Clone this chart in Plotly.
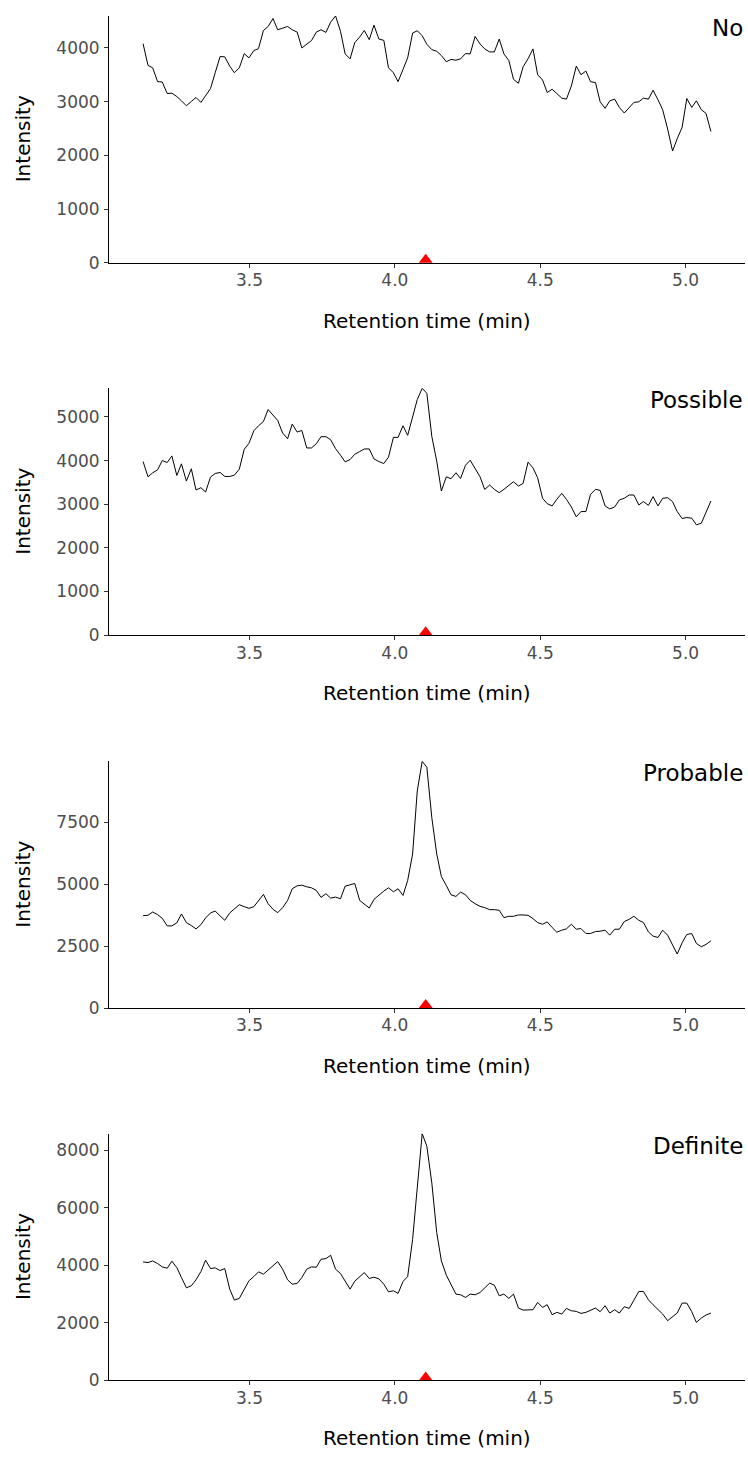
import plotly.graph_objects as go

# ---------------- data ----------------
retention_time = [
    3.134, 3.151, 3.167, 3.184, 3.200, 3.217, 3.233, 3.250, 3.266, 3.283,
    3.300, 3.316, 3.333, 3.349, 3.366, 3.382, 3.399, 3.415, 3.432, 3.448,
    3.465, 3.482, 3.498, 3.515, 3.531, 3.548, 3.564, 3.581, 3.597, 3.614,
    3.631, 3.647, 3.664, 3.680, 3.697, 3.713, 3.730, 3.746, 3.763, 3.779,
    3.796, 3.813, 3.829, 3.846, 3.862, 3.879, 3.895, 3.912, 3.928, 3.945,
    3.962, 3.978, 3.995, 4.011, 4.028, 4.044, 4.061, 4.077, 4.094, 4.110,
    4.127, 4.144, 4.160, 4.177, 4.193, 4.210, 4.226, 4.243, 4.259, 4.276,
    4.293, 4.309, 4.326, 4.342, 4.359, 4.375, 4.392, 4.408, 4.425, 4.441,
    4.458, 4.475, 4.491, 4.508, 4.524, 4.541, 4.557, 4.574, 4.590, 4.607,
    4.624, 4.640, 4.657, 4.673, 4.690, 4.706, 4.723, 4.739, 4.756, 4.772,
    4.789, 4.806, 4.822, 4.839, 4.855, 4.872, 4.888, 4.905, 4.921, 4.938,
    4.955, 4.971, 4.988, 5.004, 5.021, 5.037, 5.054, 5.070, 5.087,
]

intensity_no = [
    4080, 3674, 3630, 3372, 3366, 3151, 3157, 3095, 3015, 2923,
    3003, 3077, 2985, 3101, 3243, 3538, 3840, 3834, 3662, 3538,
    3630, 3895, 3815, 3951, 3988, 4326, 4400, 4548, 4338, 4369,
    4400, 4338, 4295, 4000, 4062, 4135, 4295, 4338, 4289, 4480,
    4597, 4308, 3889, 3797, 4098, 4203, 4326, 4154, 4425, 4166,
    4141, 3630, 3538, 3372, 3600, 3815, 4277, 4320, 4228, 4068,
    3969, 3938, 3858, 3742, 3785, 3772, 3797, 3895, 3889, 4215,
    4074, 3982, 3926, 3926, 4166, 3889, 3766, 3415, 3342, 3649,
    3797, 3982, 3502, 3403, 3169, 3231, 3151, 3065, 3046, 3292,
    3662, 3502, 3569, 3372, 3354, 2997, 2874, 3015, 3046, 2892,
    2788, 2886, 2985, 2997, 3065, 3046, 3212, 3034, 2849, 2492,
    2080, 2308, 2523, 3058, 2892, 3015, 2849, 2782, 2443,
]

intensity_possible = [
    3979, 3629, 3721, 3789, 4002, 3956, 4108, 3660, 3926, 3531,
    3812, 3326, 3379, 3280, 3622, 3705, 3728, 3637, 3637, 3667,
    3804, 4260, 4396, 4685, 4799, 4897, 5171, 5034, 4920, 4632,
    4503, 4837, 4655, 4692, 4290, 4290, 4389, 4548, 4548, 4480,
    4275, 4123, 3971, 4024, 4146, 4207, 4267, 4267, 4040, 3979,
    3933, 4077, 4533, 4533, 4799, 4579, 4989, 5399, 5657, 5543,
    4556, 3986, 3303, 3629, 3584, 3721, 3591, 3895, 4009, 3819,
    3629, 3341, 3440, 3341, 3265, 3341, 3432, 3516, 3417, 3478,
    3964, 3834, 3607, 3136, 3014, 2961, 3113, 3250, 3113, 2938,
    2711, 2832, 2832, 3227, 3341, 3318, 2961, 2893, 2938, 3098,
    3136, 3212, 3212, 2984, 3060, 2976, 3174, 2961, 3136, 3151,
    3060, 2832, 2673, 2695, 2680, 2528, 2566, 2809, 3075,
]

intensity_probable = [
    3726, 3739, 3873, 3766, 3619, 3312, 3312, 3432, 3793, 3446,
    3325, 3192, 3365, 3633, 3833, 3913, 3713, 3539, 3833, 3980,
    4167, 4087, 4020, 4087, 4340, 4581, 4207, 3980, 3846, 4047,
    4340, 4808, 4928, 4955, 4888, 4848, 4741, 4461, 4607, 4434,
    4474, 4407, 4915, 4955, 5021, 4340, 4207, 4033, 4380, 4567,
    4714, 4848, 4688, 4808, 4541, 5142, 6210, 8748, 9950, 9709,
    7679, 6210, 5302, 4941, 4567, 4501, 4674, 4567, 4340, 4207,
    4100, 4047, 3967, 3967, 3940, 3646, 3699, 3699, 3753, 3753,
    3739, 3606, 3446, 3379, 3472, 3245, 3058, 3138, 3192, 3379,
    3178, 3205, 3005, 3005, 3085, 3098, 3138, 2938, 3178, 3178,
    3486, 3579, 3699, 3539, 3446, 3072, 2898, 2845, 3138, 2938,
    2578, 2177, 2631, 2965, 3005, 2604, 2471, 2564, 2711,
]

intensity_definite = [
    4125, 4102, 4159, 4067, 3951, 3905, 4148, 3928, 3582, 3224,
    3293, 3501, 3790, 4183, 3894, 3917, 3824, 3894, 3177, 2796,
    2854, 3177, 3466, 3616, 3778, 3697, 3847, 3986, 4136, 3871,
    3501, 3351, 3374, 3582, 3871, 3951, 3940, 4217, 4240, 4356,
    3871, 3720, 3443, 3177, 3455, 3605, 3755, 3547, 3593, 3536,
    3351, 3085, 3120, 3027, 3443, 3616, 4910, 6701, 8585, 8146,
    6875, 5142, 4159, 3663, 3316, 3004, 2981, 2889, 3004, 2981,
    3062, 3235, 3385, 3316, 2946, 3004, 2854, 3004, 2519, 2449,
    2461, 2461, 2715, 2542, 2634, 2288, 2369, 2311, 2507, 2426,
    2403, 2334, 2369, 2449, 2519, 2392, 2600, 2346, 2461, 2346,
    2565, 2507, 2808, 3096, 3096, 2808, 2634, 2449, 2311, 2080,
    2218, 2346, 2692, 2692, 2392, 2022, 2172, 2276, 2346,
]

panel_labels = ["No", "Possible", "Probable", "Definite"]
expected_rt = 4.106

x_tickvals = [3.5, 4.0, 4.5, 5.0]
x_ticktext = ["3.5", "4.0", "4.5", "5.0"]
y_tickvals = [
    [0, 1000, 2000, 3000, 4000],
    [0, 1000, 2000, 3000, 4000, 5000],
    [0, 2500, 5000, 7500],
    [0, 2000, 4000, 6000, 8000],
]
y_ticktext = [[str(v) for v in tv] for tv in y_tickvals]

x_title = "Retention time (min)"
y_title = "Intensity"

# ---------------- layout constants ----------------
W, H = 748, 1460
FONT = "DejaVu Sans"
panel_tops = [16, 391, 766.5, 1141.5]
panel_h = 248.5

series = [intensity_no, intensity_possible, intensity_probable, intensity_definite]

tmin, tmax = min(retention_time), max(retention_time)
pad = 0.06 * (tmax - tmin)

fig = go.Figure()
layout_axes = {}
annotations = []

for k, (label, vals) in enumerate(zip(panel_labels, series)):
    sfx = "" if k == 0 else str(k + 1)
    xa, ya = "x" + sfx, "y" + sfx
    ymax = max(vals)

    fig.add_trace(go.Scatter(
        x=retention_time, y=vals, mode="lines",
        line=dict(color="black", width=1),
        xaxis=xa, yaxis=ya, showlegend=False, hoverinfo="skip",
    ))
    # red triangle marking the expected retention time, base sitting on the axis
    fig.add_trace(go.Scatter(
        x=[expected_rt], y=[ymax * 3.0 / panel_h], mode="markers",
        marker=dict(symbol="triangle-up", size=12, color="red", line=dict(width=0)),
        cliponaxis=False, xaxis=xa, yaxis=ya, showlegend=False, hoverinfo="skip",
    ))

    top = panel_tops[k]
    bottom = top + panel_h
    dom = [(H - bottom) / H, (H - top) / H]

    common = dict(
        showline=True, linecolor="black", linewidth=1,
        ticks="outside", ticklen=4, tickwidth=1, tickcolor="#333333",
        tickfont=dict(family=FONT, size=17, color="#4D4D4D"),
        showgrid=False, zeroline=False,
    )
    layout_axes["xaxis" + sfx] = dict(
        domain=[0, 1], anchor=ya, range=[tmin - pad, tmax + pad],
        tickvals=x_tickvals, ticktext=x_ticktext, ticklabelstandoff=-2, **common,
    )
    layout_axes["yaxis" + sfx] = dict(
        domain=dom, anchor=xa, range=[0, ymax],
        tickvals=y_tickvals[k], ticktext=y_ticktext[k], ticklabelstandoff=1, **common,
    )

    annotations.append(dict(
        text=x_title, xref=xa + " domain", yref=ya + " domain",
        x=0.5, y=0, yshift=-58, xanchor="center", yanchor="middle",
        showarrow=False, font=dict(family=FONT, size=20, color="black"),
    ))
    annotations.append(dict(
        text=y_title, xref=xa + " domain", yref=ya + " domain",
        x=0, y=0.5, xshift=-86, xanchor="center", yanchor="middle", textangle=-90,
        showarrow=False, font=dict(family=FONT, size=20, color="black"),
    ))
    annotations.append(dict(
        text=label, xref=xa + " domain", yref=ya + " domain",
        x=1, y=1, xanchor="right", yanchor="top", yshift=3,
        showarrow=False, font=dict(family=FONT, size=23, color="black"),
    ))

fig.update_layout(
    width=W, height=H,
    margin=dict(l=109, r=3, t=0, b=0),
    paper_bgcolor="white", plot_bgcolor="white",
    annotations=annotations,
    showlegend=False,
    **layout_axes,
)

fig.write_html("out.html")
